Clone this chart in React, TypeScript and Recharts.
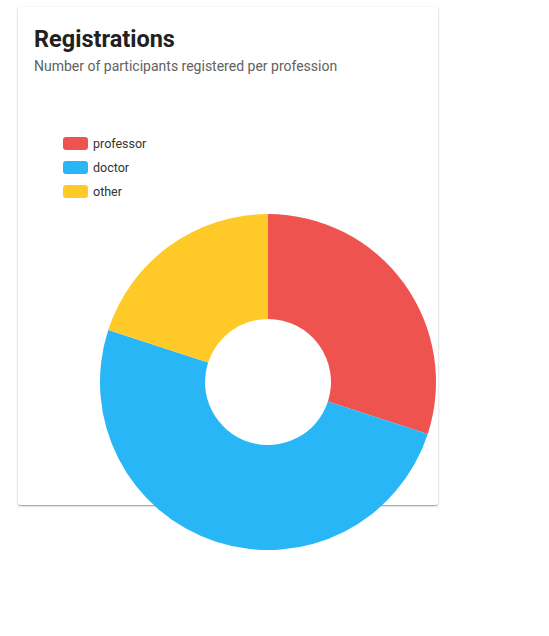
import React from 'react';
import { PieChart, Pie, Cell } from 'recharts';

const professions = ['professor', 'doctor', 'other'];
const participants = [30, 50, 20];
const sliceColors = ['#EF5350', '#29B6F6', '#FFCA28'];

const chartData = professions.map((name, i) => ({ name, value: participants[i] }));

const LegendList = () => (
    <ul style={{ listStyle: 'none', margin: 0, padding: 0 }}>
        {professions.map((name, index) => (
            <li key={`item-${index}`} style={{ display: 'flex', alignItems: 'center', height: 24 }}>
                <span
                    style={{
                        display: 'inline-block',
                        width: 25,
                        height: 13,
                        borderRadius: 3,
                        background: sliceColors[index],
                        marginRight: 5,
                    }}
                />
                <span style={{ fontSize: 12.5, color: '#333' }}>{name}</span>
            </li>
        ))}
    </ul>
);

export default function App() {
    return (
        <div style={{ position: 'absolute', left: 0, top: 0, width: 549, height: 636, fontFamily: 'Roboto, sans-serif' }}>
            <div
                style={{
                    position: 'absolute',
                    left: 18,
                    top: 7,
                    width: 420,
                    height: 498,
                    background: '#fff',
                    borderRadius: 2,
                    boxShadow: '0 1px 3px rgba(0,0,0,0.2), 0 1px 1px rgba(0,0,0,0.14), 0 2px 1px -1px rgba(0,0,0,0.12)',
                }}
            >
                <div style={{ position: 'absolute', left: 16, top: 18, fontSize: 23.5, fontWeight: 700, color: '#212121' }}>
                    Registrations
                </div>
                <div style={{ position: 'absolute', left: 16, top: 51, fontSize: 14, color: '#616161' }}>
                    Number of participants registered per profession
                </div>
                <div style={{ position: 'absolute', left: 45, top: 124 }}>
                    <LegendList />
                </div>
            </div>
            <div style={{ position: 'absolute', left: 0, top: 0 }}>
                <PieChart width={549} height={636} margin={{ top: 0, right: 0, bottom: 0, left: 0 }}>
                    <Pie
                        data={chartData}
                        dataKey="value"
                        nameKey="name"
                        cx={268}
                        cy={382}
                        innerRadius={63}
                        outerRadius={168}
                        startAngle={90}
                        endAngle={-270}
                        stroke="none"
                        isAnimationActive={false}
                    >
                        {chartData.map((entry, index) => (
                            <Cell key={`cell-${index}`} fill={sliceColors[index]} />
                        ))}
                    </Pie>
                </PieChart>
            </div>
        </div>
    );
}
